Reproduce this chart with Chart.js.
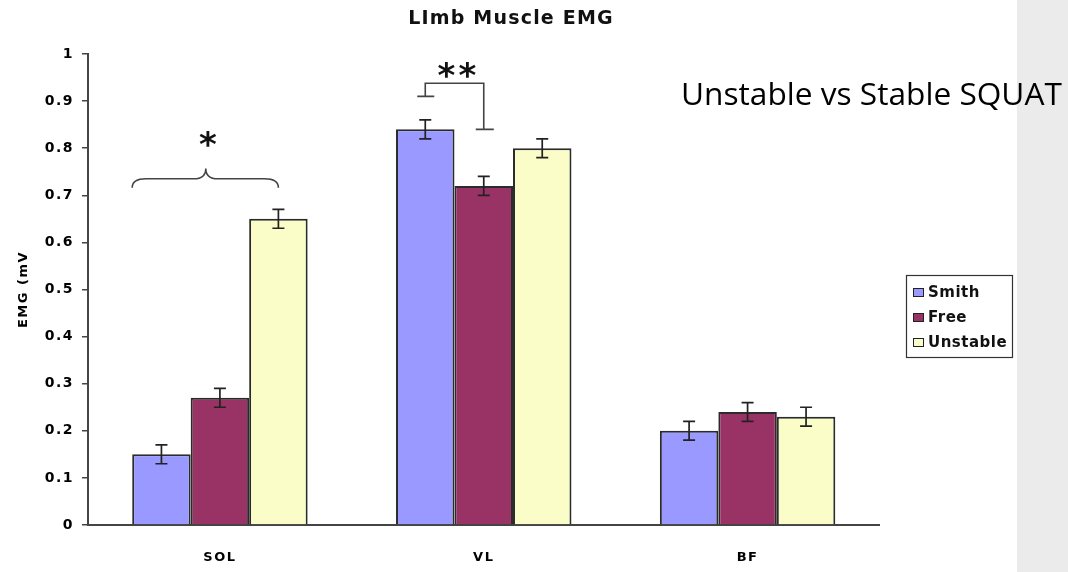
<!DOCTYPE html>
<html>
<head>
<meta charset="utf-8">
<script src="https://cdn.jsdelivr.net/npm/chart.js@4.4.0/dist/chart.umd.min.js"></script>
<style>
  html, body { margin: 0; padding: 0; background: #fff; overflow: hidden; }
  canvas { display: block; }
</style>
</head>
<body>
<canvas id="emg" width="1068" height="572"></canvas>
<script>
// Muscle groups on the x axis
const categories = ['SOL', 'VL', 'BF'];

// Mean EMG (mV) per condition
const smithValues    = [0.15, 0.84, 0.20];
const freeValues     = [0.27, 0.72, 0.24];
const unstableValues = [0.65, 0.80, 0.23];

// Error bar half-lengths (mV)
const smithErrors    = [0.02, 0.02, 0.02];
const freeErrors     = [0.02, 0.02, 0.02];
const unstableErrors = [0.02, 0.02, 0.02];

// Y axis tick labels, 0 to 1 in steps of 0.1
const yTickLabels = ['0', '0.1', '0.2', '0.3', '0.4', '0.5', '0.6', '0.7', '0.8', '0.9', '1'];

const chartTitle = 'LImb Muscle EMG';
const yAxisTitle = 'EMG (mV';
const slideCaption = 'Unstable vs Stable SQUAT';

const BOLD = 'bold';
const FAMILY = '"DejaVu Sans", "Liberation Sans", Arial, sans-serif';

function starText(ctx, text, cx, cy) {
  const m = ctx.measureText(text);
  const a = m.actualBoundingBoxAscent, d = m.actualBoundingBoxDescent;
  ctx.textBaseline = 'alphabetic';
  ctx.fillText(text, cx, cy + (a - d) / 2);
}

const decorations = {
  id: 'decorations',
  beforeDraw(chart) {
    const { ctx, width, height } = chart;
    ctx.save();
    ctx.fillStyle = '#ffffff';
    ctx.fillRect(0, 0, width, height);
    ctx.fillStyle = '#ebebeb';
    ctx.fillRect(1017, 0, width - 1017, height);
    ctx.restore();
    // axis text is drawn slightly tracked out
    ctx.letterSpacing = '1.5px';
  },
  afterDatasetsDraw(chart) {
    const { ctx } = chart;
    const y = chart.scales.y;
    ctx.save();
    ctx.strokeStyle = '#222';
    ctx.lineWidth = 1.7;
    chart.data.datasets.forEach((ds, i) => {
      const meta = chart.getDatasetMeta(i);
      meta.data.forEach((bar, j) => {
        const v = ds.data[j], e = ds.errors[j];
        const yt = y.getPixelForValue(v + e);
        const yb = y.getPixelForValue(v - e);
        const x = bar.x;
        ctx.beginPath();
        ctx.moveTo(x, yt); ctx.lineTo(x, yb);
        ctx.moveTo(x - 6, yt); ctx.lineTo(x + 6, yt);
        ctx.moveTo(x - 6, yb); ctx.lineTo(x + 6, yb);
        ctx.stroke();
      });
    });
    ctx.restore();
  },
  afterDraw(chart) {
    const { ctx } = chart;
    const y = chart.scales.y;
    const bar = (d, c) => chart.getDatasetMeta(d).data[c];

    ctx.save();

    // Chart title
    ctx.fillStyle = '#111';
    ctx.font = `${BOLD} 19px ${FAMILY}`;
    ctx.letterSpacing = '1.2px';
    ctx.textAlign = 'center';
    ctx.textBaseline = 'middle';
    ctx.fillText(chartTitle, 511, 19);

    // SOL significance brace
    ctx.letterSpacing = '0px';
    ctx.strokeStyle = '#444';
    ctx.lineWidth = 1.6;
    const b0 = bar(0, 0), b2 = bar(2, 0);
    const xl = b0.x - b0.width / 2, xr = b2.x;
    const xm = (xl + xr) / 2 + 0.5;
    const yEnd = y.getPixelForValue(0.716);
    const yMid = y.getPixelForValue(0.735);
    const yTip = y.getPixelForValue(0.757);
    ctx.beginPath();
    ctx.moveTo(xl, yEnd);
    ctx.quadraticCurveTo(xl, yMid, xl + 14, yMid);
    ctx.lineTo(xm - 12, yMid);
    ctx.quadraticCurveTo(xm, yMid, xm, yTip);
    ctx.quadraticCurveTo(xm, yMid, xm + 12, yMid);
    ctx.lineTo(xr - 14, yMid);
    ctx.quadraticCurveTo(xr, yMid, xr, yEnd);
    ctx.stroke();

    ctx.fillStyle = '#111';
    ctx.font = `${BOLD} 34px ${FAMILY}`;
    ctx.textAlign = 'center';
    starText(ctx, '*', xm + 2, y.getPixelForValue(0.800));

    // VL significance bracket
    const v0 = bar(0, 1), v1 = bar(1, 1);
    const yTop = y.getPixelForValue(0.938);
    const yL = y.getPixelForValue(0.91);
    const yR = y.getPixelForValue(0.84);
    ctx.beginPath();
    ctx.moveTo(v0.x - 8, yL); ctx.lineTo(v0.x + 9, yL);
    ctx.moveTo(v0.x, yL); ctx.lineTo(v0.x, yTop); ctx.lineTo(v1.x, yTop); ctx.lineTo(v1.x, yR);
    ctx.moveTo(v1.x - 8, yR); ctx.lineTo(v1.x + 10, yR);
    ctx.stroke();
    const ys = y.getPixelForValue(0.966);
    starText(ctx, '*', v0.x + 21, ys);
    starText(ctx, '*', v0.x + 42, ys);

    // Legend
    const lx = 906, ly = 275, lw = 106, lh = 82;
    ctx.fillStyle = '#fff';
    ctx.fillRect(lx, ly, lw, lh);
    ctx.strokeStyle = '#333';
    ctx.lineWidth = 1.2;
    ctx.strokeRect(lx + 0.5, ly + 0.5, lw, lh);
    ctx.font = `${BOLD} 15px ${FAMILY}`;
    ctx.letterSpacing = '0.5px';
    ctx.textAlign = 'left';
    ctx.textBaseline = 'middle';
    const rows = [292, 317, 342];
    chart.data.datasets.forEach((ds, i) => {
      const ry = rows[i];
      ctx.fillStyle = ds.backgroundColor;
      ctx.fillRect(913, ry - 4, 11, 8);
      ctx.strokeStyle = '#222';
      ctx.lineWidth = 1;
      ctx.strokeRect(913.5, ry - 3.5, 10, 8);
      ctx.fillStyle = '#111';
      ctx.fillText(ds.label, 928, ry + 1);
    });

    // Slide caption
    ctx.letterSpacing = '0px';
    ctx.fillStyle = '#000';
    let size = 32;
    ctx.font = `${size}px "Open Sans", "Noto Sans", sans-serif`;
    const w = ctx.measureText(slideCaption).width;
    size = size * 381 / w;
    ctx.font = `${size}px "Open Sans", "Noto Sans", sans-serif`;
    ctx.textAlign = 'left';
    ctx.textBaseline = 'alphabetic';
    ctx.fillText(slideCaption, 681, 105);

    ctx.restore();
  }
};

new Chart(document.getElementById('emg'), {
  type: 'bar',
  data: {
    labels: categories,
    datasets: [
      { label: 'Smith',    data: smithValues,    errors: smithErrors,    backgroundColor: '#9999ff' },
      { label: 'Free',     data: freeValues,     errors: freeErrors,     backgroundColor: '#993366' },
      { label: 'Unstable', data: unstableValues, errors: unstableErrors, backgroundColor: '#fbfdc8' }
    ]
  },
  options: {
    responsive: false,
    animation: false,
    devicePixelRatio: 1,
    layout: { padding: { top: 54, right: 188.5, bottom: 0, left: 0 } },
    datasets: {
      bar: {
        categoryPercentage: 0.665,
        barPercentage: 1.0,
        borderColor: '#2b2b2b',
        borderWidth: 2
      }
    },
    plugins: {
      legend: { display: false },
      title: { display: false },
      tooltip: { enabled: false }
    },
    scales: {
      x: {
        grid: { display: false, drawTicks: false },
        border: { display: true, color: '#444', width: 2 },
        ticks: { color: '#000', font: { family: FAMILY, weight: BOLD, size: 13 }, padding: 25 },
        afterFit(scale) { scale.height = 47; }
      },
      y: {
        min: 0,
        max: 1,
        ticks: {
          stepSize: 0.1,
          color: '#000',
          font: { family: FAMILY, weight: BOLD, size: 14 },
          padding: 8,
          callback: (v) => yTickLabels[Math.round(v * 10)]
        },
        grid: { drawOnChartArea: false, drawTicks: true, tickLength: 6, color: '#444', lineWidth: 1.5 },
        border: { display: true, color: '#444', width: 2 },
        title: {
          display: true,
          text: yAxisTitle,
          color: '#000',
          font: { family: FAMILY, weight: BOLD, size: 13 },
          padding: { top: 16, bottom: 0 }
        },
        afterFit(scale) { scale.width = 88; }
      }
    }
  },
  plugins: [decorations]
});
</script>
</body>
</html>
